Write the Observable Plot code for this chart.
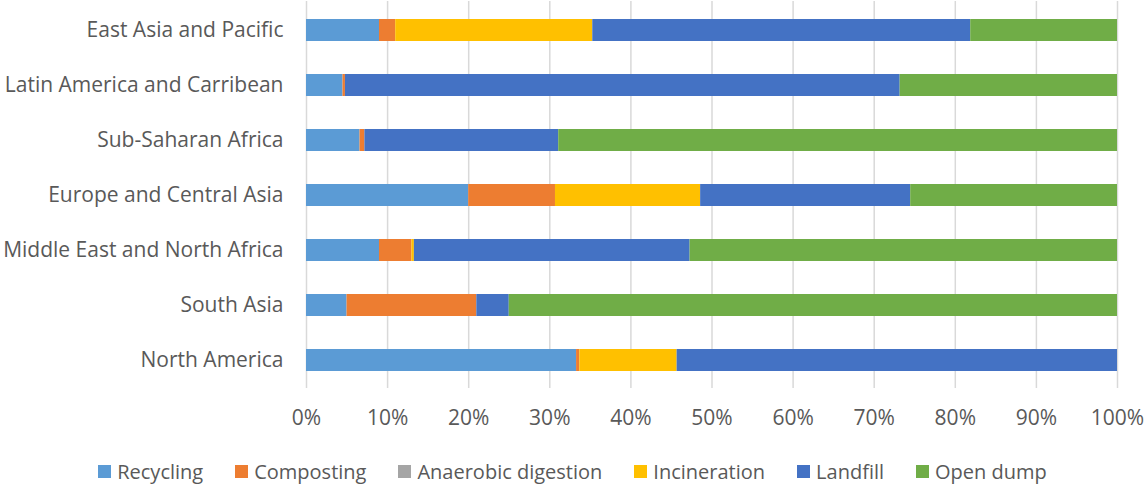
<!DOCTYPE html>
<html>
<head>
<meta charset="utf-8">
<script src="https://cdn.jsdelivr.net/npm/d3@7"></script>
<script src="https://cdn.jsdelivr.net/npm/@observablehq/plot@0.6"></script>
<style>
  html, body { margin: 0; padding: 0; background: #fff; }
  body { width: 1145px; height: 488px; overflow: hidden; font-family: "Open Sans", sans-serif; }
  #chart svg { display: block; }
  #legend { display: flex; justify-content: center; align-items: center; margin-top: 22px; font-size: 20px; color: #595959; }
  .item { display: flex; align-items: center; margin: 0 16px; }
  .sw { width: 13px; height: 13px; margin-right: 6px; }
</style>
</head>
<body>
<div id="chart"></div>
<div id="legend"></div>
<script>
const regions = ["East Asia and Pacific", "Latin America and Carribean", "Sub-Saharan Africa", "Europe and Central Asia", "Middle East and North Africa", "South Asia", "North America"];
const methods = ["Recycling", "Composting", "Anaerobic digestion", "Incineration", "Landfill", "Open dump"];
const colors = ["#5B9BD5", "#ED7D31", "#A5A5A5", "#FFC000", "#4472C4", "#70AD47"];
const recycling   = [9.0, 4.5, 6.6, 20.0, 9.0, 5.0, 33.3];
const composting  = [2.0, 0.3, 0.6, 10.7, 4.0, 16.0, 0.4];
const anaerobic   = [0, 0, 0, 0, 0, 0, 0];
const incineration= [24.3, 0, 0, 17.9, 0.3, 0, 12.0];
const landfill    = [46.6, 68.4, 23.9, 25.9, 34.0, 4.0, 54.3];
const openDump    = [18.1, 26.8, 68.9, 25.5, 52.7, 75.0, 0];
const xTicks = [0, 10, 20, 30, 40, 50, 60, 70, 80, 90, 100];

const series = [recycling, composting, anaerobic, incineration, landfill, openDump];
const table = [];
methods.forEach((m, i) => regions.forEach((r, j) => table.push({region: r, method: m, value: series[i][j]})));

const chart = Plot.plot({
  width: 1145,
  height: 436,
  marginLeft: 306,
  marginRight: 28,
  marginTop: 1,
  marginBottom: 48,
  style: {fontFamily: "Open Sans, sans-serif", fontSize: "21px", color: "#595959", background: "#fff"},
  x: {domain: [0, 100], ticks: xTicks, tickFormat: d => d + "%", label: null},
  y: {domain: regions, paddingInner: 0.6, paddingOuter: 0.3, label: null},
  color: {domain: methods, range: colors},
  marks: [
    Plot.gridX(xTicks, {stroke: "#d9d9d9", strokeOpacity: 1, strokeWidth: 1.5}),
    Plot.barX(table, Plot.stackX({x: "value", y: "region", fill: "method", z: "method", order: methods})),
    Plot.axisX({ticks: xTicks, tickFormat: d => d + "%", tickSize: 0, tickPadding: 22, label: null, fontSize: 21}),
    Plot.axisY({tickSize: 0, tickPadding: 23, label: null, fontSize: 21})
  ]
});
document.getElementById("chart").appendChild(chart);

const lg = document.getElementById("legend");
methods.forEach((m, i) => {
  const it = document.createElement("div");
  it.className = "item";
  const sw = document.createElement("div");
  sw.className = "sw";
  sw.style.background = colors[i];
  const t = document.createElement("span");
  t.textContent = m;
  it.appendChild(sw); it.appendChild(t);
  lg.appendChild(it);
});
</script>
</body>
</html>
